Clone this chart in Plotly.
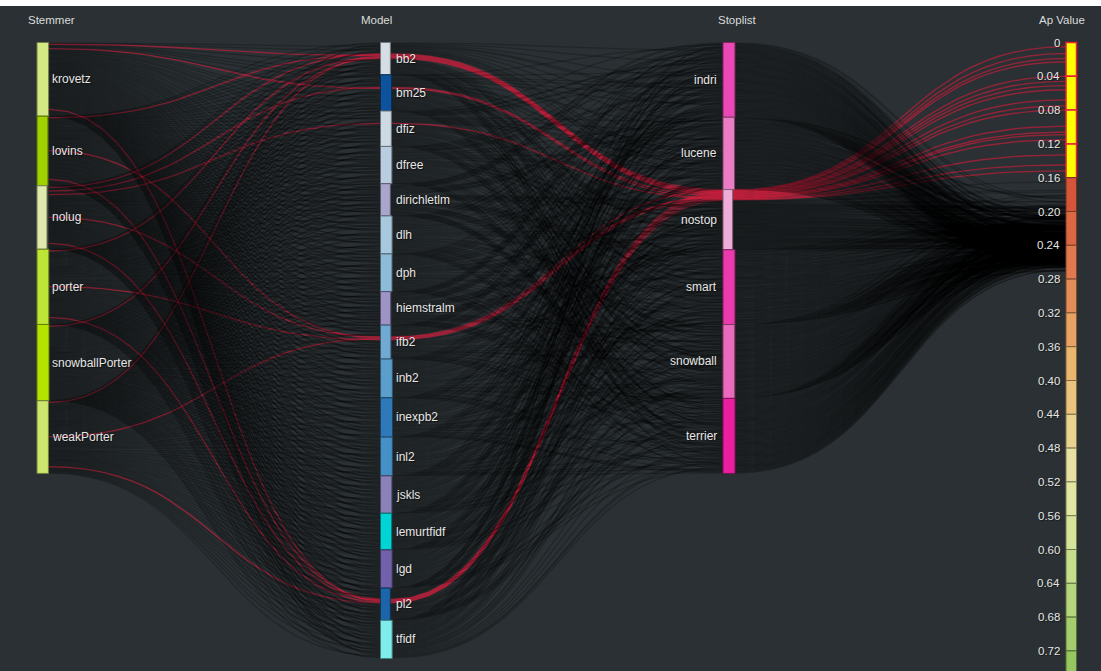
import numpy as np
import plotly.graph_objects as go

# ---------------------------------------------------------------- data
stemmers = ["krovetz", "lovins", "nolug", "porter", "snowballPorter", "weakPorter"]
models = ["bb2", "bm25", "dfiz", "dfree", "dirichletlm", "dlh", "dph", "hiemstralm",
          "ifb2", "inb2", "inexpb2", "inl2", "jskls", "lemurtfidf", "lgd", "pl2", "tfidf"]
stoplists = ["indri", "lucene", "nostop", "smart", "snowball", "terrier"]

# Average precision of every run, in thousandths.
# One table per stoplist: rows follow `models`, columns follow `stemmers`.
ap_indri = [
    [250, 230, 218, 249, 258, 242], [246, 238, 213, 257, 253, 248], [240, 231, 206, 239, 245, 232],
    [244, 235, 222, 255, 252, 251], [221, 201, 185, 226, 219, 213], [254, 244, 228, 255, 262, 245],
    [255, 235, 223, 254, 263, 247], [222, 214, 189, 233, 229, 224], [242, 233, 208, 241, 247, 234],
    [254, 245, 232, 265, 262, 261], [266, 246, 230, 271, 264, 258], [259, 249, 233, 260, 267, 250],
    [253, 233, 221, 252, 261, 245], [242, 234, 209, 253, 249, 244], [256, 247, 222, 255, 261, 248],
    [229, 220, 207, 240, 237, 236], [259, 239, 223, 264, 257, 251],
]
ap_lucene = [
    [236, 228, 203, 247, 243, 238], [242, 233, 208, 241, 247, 234], [226, 217, 204, 237, 234, 233],
    [245, 225, 209, 250, 243, 237], [209, 199, 183, 210, 217, 200], [249, 229, 217, 248, 257, 241],
    [241, 233, 208, 252, 248, 243], [218, 209, 184, 217, 223, 210], [228, 219, 206, 239, 236, 235],
    [255, 235, 219, 260, 253, 247], [254, 244, 228, 255, 262, 245], [254, 234, 222, 253, 262, 246],
    [239, 231, 206, 250, 246, 241], [238, 229, 204, 237, 243, 230], [242, 233, 220, 253, 250, 249],
    [230, 210, 194, 235, 228, 222], [247, 237, 221, 248, 255, 238],
]
ap_nostop = [
    [40, 19, 5, 56, 68, 46], [115, 212, 80, 232, 229, 228], [220, 200, 133, 225, 218, 212],
    [226, 216, 200, 227, 234, 217], [197, 177, 165, 196, 205, 189], [228, 220, 195, 239, 235, 230],
    [230, 221, 196, 229, 235, 222], [197, 188, 175, 208, 205, 204], [222, 99, 13, 145, 220, 106],
    [236, 226, 210, 237, 244, 227], [242, 222, 210, 241, 250, 234], [233, 225, 200, 244, 240, 235],
    [228, 219, 194, 227, 233, 220], [217, 208, 195, 228, 225, 224], [236, 216, 200, 241, 234, 228],
    [75, 23, 51, 109, 219, 152], [235, 215, 203, 234, 243, 227],
]
ap_smart = [
    [242, 233, 220, 253, 250, 249], [253, 233, 217, 258, 251, 245], [239, 229, 213, 240, 247, 230],
    [252, 232, 220, 251, 260, 244], [214, 206, 181, 225, 221, 216], [255, 246, 221, 254, 260, 247],
    [247, 238, 225, 258, 255, 254], [229, 209, 193, 234, 227, 221], [241, 231, 215, 242, 249, 232],
    [262, 242, 230, 261, 270, 254], [259, 251, 226, 270, 266, 261], [260, 251, 226, 259, 265, 252],
    [245, 236, 223, 256, 253, 252], [249, 229, 213, 254, 247, 241], [255, 245, 229, 256, 263, 246],
    [237, 217, 205, 236, 245, 229], [252, 244, 219, 263, 259, 254],
]
ap_snowball = [
    [248, 228, 212, 253, 246, 240], [246, 236, 220, 247, 254, 237], [239, 219, 207, 238, 247, 231],
    [243, 235, 210, 254, 250, 245], [215, 206, 181, 214, 220, 207], [246, 237, 224, 257, 254, 253],
    [253, 233, 217, 258, 251, 245], [222, 212, 196, 223, 230, 213], [241, 221, 209, 240, 249, 233],
    [253, 245, 220, 264, 260, 255], [260, 251, 226, 259, 265, 252], [251, 242, 229, 262, 259, 258],
    [251, 231, 215, 256, 249, 243], [242, 232, 216, 243, 250, 233], [255, 235, 223, 254, 263, 247],
    [228, 220, 195, 239, 235, 230], [253, 244, 219, 252, 258, 245],
]
ap_terrier = [
    [248, 238, 222, 249, 256, 239], [253, 233, 221, 252, 261, 245], [237, 229, 204, 248, 244, 239],
    [251, 242, 217, 250, 256, 243], [213, 204, 191, 224, 221, 220], [259, 239, 223, 264, 257, 251],
    [253, 243, 227, 254, 261, 244], [229, 209, 197, 228, 237, 221], [239, 231, 206, 250, 246, 241],
    [261, 252, 227, 260, 266, 253], [258, 249, 236, 269, 266, 265], [264, 244, 228, 269, 262, 256],
    [251, 241, 225, 252, 259, 242], [249, 229, 217, 248, 257, 241], [253, 245, 220, 264, 260, 255],
    [236, 227, 202, 235, 241, 228], [251, 242, 229, 262, 259, 258],
]

# Ap Value scale: bin edges and tick labels
ap_edges = [0.00, 0.04, 0.08, 0.12, 0.16, 0.20, 0.24, 0.28, 0.32, 0.36, 0.40,
            0.44, 0.48, 0.52, 0.56, 0.60, 0.64, 0.68, 0.72, 0.76, 0.80]
ap_tick_labels = ["0", "0.04", "0.08", "0.12", "0.16", "0.20", "0.24", "0.28", "0.32", "0.36",
                  "0.40", "0.44", "0.48", "0.52", "0.56", "0.60", "0.64", "0.68", "0.72"]
# brushed interval on the Ap Value axis
ap_brush = (0.0, 0.16)

# ---------------------------------------------------------------- style
BG = "#2a3033"
FONT = "Arial, 'Liberation Sans', Helvetica, sans-serif"
TXT = "#e6e6e6"
stemmer_colors = ["#d4e884", "#a2d100", "#dfe9ae", "#bde536", "#b4e300", "#cde66e"]
model_colors = ["#d5dde5", "#0f529c", "#cdd9e3", "#b8cde0", "#aaa5cc", "#a8c8de", "#8ebbd8",
                "#9d93c5", "#70aad2", "#5a9ecb", "#2f79b8", "#4590c6", "#8981b8", "#00d4d4",
                "#7161aa", "#1b65a8", "#80eded"]
stoplist_colors = ["#ea48b4", "#ea7cc4", "#eeadd8", "#ea3aab", "#ea6abd", "#ea1fa0"]
ap_colors = ["#ffff00", "#ffff00", "#ffff00", "#ffff00", "#d4553a", "#dc6843", "#e07a4e",
             "#e38d58", "#e8a263", "#eab56f", "#eac47e", "#e9d28f", "#e7e0a2", "#e1e6a2",
             "#d6e39a", "#c6dd8c", "#b4d57c", "#a4cd6d", "#95c660", "#88bf55"]
LINE_DEFAULT = "rgba(0,0,0,0.22)"
LINE_BRUSHED = "rgba(215,28,60,0.6)"

# column geometry (x in pixels of the 1101 px wide plot, y in Ap units)
STEM_X, MODEL_X, STOP_X, AP_X = 37.0, 380.5, 723.0, 1066.0
BAR_W, AP_W = 12.0, 10.5
STEM_SPAN, MODEL_SPAN, STOP_SPAN = 0.510, 0.729, 0.510
PX_PER_UNIT = 845.0
ZERO_PX, TOP_MARGIN, FIG_W, FIG_H = 42.5, 6, 1101, 671
Y_TOP = (TOP_MARGIN - ZERO_PX) / PX_PER_UNIT
Y_BOTTOM = (FIG_H - ZERO_PX) / PX_PER_UNIT


def darker(hex_color, f=0.55):
    h = hex_color.lstrip("#")
    r, g, b = (int(h[i:i + 2], 16) for i in (0, 2, 4))
    return "rgb(%d,%d,%d)" % (r * f, g * f, b * f)


# ---------------------------------------------------------------- runs
tables = [ap_indri, ap_lucene, ap_nostop, ap_smart, ap_snowball, ap_terrier]
run_stem, run_model, run_stop, run_ap = [], [], [], []
for si, table in enumerate(tables):
    for mi, row in enumerate(table):
        for ti, v in enumerate(row):
            run_stem.append(ti)
            run_model.append(mi)
            run_stop.append(si)
            run_ap.append(v / 1000.0)
run_stem, run_model = np.array(run_stem), np.array(run_model)
run_stop, run_ap = np.array(run_stop), np.array(run_ap)
n_runs = len(run_ap)


def stack(cat, ncat, span):
    """Bar extents: height proportional to the summed AP of the category."""
    sizes = np.array([run_ap[cat == c].sum() for c in range(ncat)])
    h = sizes / sizes.sum() * span
    tops = np.concatenate([[0.0], np.cumsum(h)[:-1]])
    return tops, h, sizes / sizes.max()


def slots(cat, ncat, tops, h, keys):
    pos = np.zeros(n_runs)
    for c in range(ncat):
        idx = [i for i in range(n_runs) if cat[i] == c]
        idx.sort(key=lambda i: tuple(k[i] for k in keys))
        for r, i in enumerate(idx):
            pos[i] = tops[c] + (r + 0.5) / len(idx) * h[c]
    return pos


stem_top, stem_h, stem_rel = stack(run_stem, len(stemmers), STEM_SPAN)
model_top, model_h, model_rel = stack(run_model, len(models), MODEL_SPAN)
stop_top, stop_h, stop_rel = stack(run_stop, len(stoplists), STOP_SPAN)

y_stem = slots(run_stem, len(stemmers), stem_top, stem_h, [run_model, run_stop, run_ap])
y_model = slots(run_model, len(models), model_top, model_h, [run_stop, run_ap])
y_stop = slots(run_stop, len(stoplists), stop_top, stop_h, [run_ap])

T = np.linspace(0.0, 1.0, 26)


def link(x0, y0, x1, y1):
    xm = (x0 + x1) / 2.0
    a, b, c, d = (1 - T) ** 3, 3 * (1 - T) ** 2 * T, 3 * (1 - T) * T ** 2, T ** 3
    return a * x0 + (b + c) * xm + d * x1, (a + b) * y0 + (c + d) * y1


fig = go.Figure()
selected = (run_ap >= ap_brush[0]) & (run_ap < ap_brush[1])
# brushed runs go underneath, the rest of the runs are layered over them
order = list(np.where(selected)[0]) + list(np.where(~selected)[0])
for i in order:
    xs, ys = [], []
    for (x0, y0, x1, y1) in [(STEM_X + BAR_W, y_stem[i], MODEL_X, y_model[i]),
                             (MODEL_X + BAR_W, y_model[i], STOP_X, y_stop[i]),
                             (STOP_X + BAR_W, y_stop[i], AP_X, run_ap[i])]:
        bx, by = link(x0, y0, x1, y1)
        xs.extend(bx)
        ys.extend(by)
    color = LINE_BRUSHED if selected[i] else LINE_DEFAULT
    fig.add_trace(go.Scatter(x=xs, y=ys, mode="lines",
                             line=dict(color=color, width=1.4 if selected[i] else 1.3),
                             hoverinfo="skip", showlegend=False))

# ---------------------------------------------------------------- bars and labels
shapes, annotations = [], []


def label(x, y, text, anchor, size=11.5):
    annotations.append(dict(x=x, y=y, xref="x", yref="y", text=text, showarrow=False,
                            xanchor=anchor, yanchor="middle",
                            font=dict(family=FONT, size=size, color=TXT,
                                      shadow="1px 1px 1px rgba(0,0,0,0.5)")))


def column(x, names, colors, tops, h, rel, text_x, anchor):
    for name, col, t, hh, r in zip(names, colors, tops, h, rel):
        shapes.append(dict(type="rect", xref="x", yref="y", x0=x, x1=x + BAR_W * r,
                           y0=t, y1=t + hh, fillcolor=col, layer="above",
                           line=dict(color=darker(col), width=1)))
        label(text_x, t + hh / 2, name, anchor, 12)


column(STEM_X, stemmers, stemmer_colors, stem_top, stem_h, stem_rel, STEM_X + 13, "left")
column(MODEL_X, models, model_colors, model_top, model_h, model_rel, MODEL_X + 13, "left")
column(STOP_X, stoplists, stoplist_colors, stop_top, stop_h, stop_rel, STOP_X - 4, "right")

for k in range(len(ap_edges) - 1):
    lo, hi = ap_edges[k], ap_edges[k + 1]
    in_brush = lo >= ap_brush[0] and hi <= ap_brush[1]
    shapes.append(dict(type="rect", xref="x", yref="y", x0=AP_X, x1=AP_X + AP_W, y0=lo, y1=hi,
                       fillcolor=ap_colors[k], layer="above",
                       line=dict(color="#e8203a" if in_brush else darker(ap_colors[k]),
                                 width=1.5 if in_brush else 1)))
for v, t in zip(ap_edges, ap_tick_labels):
    label(AP_X - 4, v, t, "right", 11.5)

HEADER_Y = (19.5 - ZERO_PX) / PX_PER_UNIT
for x, t in [(51, "Stemmer"), (376.5, "Model"), (737, "Stoplist"), (1061.5, "Ap Value")]:
    annotations.append(dict(x=x, y=HEADER_Y, xref="x", yref="y", text=t, showarrow=False,
                            xanchor="center", yanchor="middle",
                            font=dict(family=FONT, size=11.5, color="#dcdcdc")))

fig.update_layout(
    width=FIG_W, height=FIG_H,
    margin=dict(l=0, r=0, t=TOP_MARGIN, b=0, pad=0),
    paper_bgcolor="#ffffff", plot_bgcolor=BG,
    xaxis=dict(range=[0, FIG_W], visible=False, fixedrange=True),
    yaxis=dict(range=[Y_BOTTOM, Y_TOP], visible=False, fixedrange=True),
    shapes=shapes, annotations=annotations, showlegend=False,
)

fig.write_html("out.html")
